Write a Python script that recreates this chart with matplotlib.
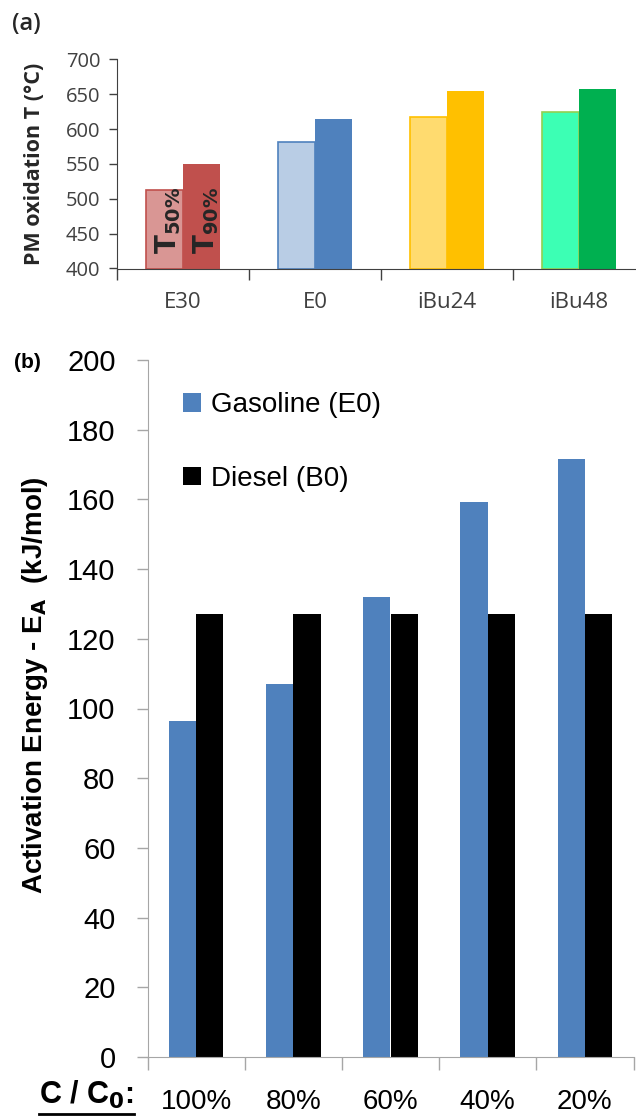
import matplotlib
matplotlib.use("Agg")
import matplotlib.pyplot as plt
import numpy as np
from matplotlib.lines import Line2D

# dados painel (a): temperatura de oxidacao do PM
fuels = ["E30", "E0", "iBu24", "iBu48"]
t50 = [512, 581, 617, 624]
t90 = [550, 614, 654, 657]
light_colors = ["#D99694", "#B9CDE5", "#FFDB6F", "#3CFFB4"]
edge_colors = ["#C0504D", "#4F81BD", "#FFC000", "#92D050"]
dark_colors = ["#C0504D", "#4F81BD", "#FFC000", "#00B050"]

# dados painel (b): energia de ativacao
conv = ["100%", "80%", "60%", "40%", "20%"]
gasoline = [96.4, 107.1, 132.1, 159.3, 171.5]
diesel = [127, 127, 127, 127, 127]

arial = ["Liberation Sans", "DejaVu Sans"]
sans_a = ["Open Sans", "DejaVu Sans"]
plt.rcParams["mathtext.fontset"] = "dejavusans"

W, H = 636, 1116
fig = plt.figure(figsize=(W / 100, H / 100), dpi=100)

# ---------- (a) ----------
ax1 = fig.add_axes([117 / W, 1 - 268.5 / H, 528 / W, (268.5 - 59.3) / H])
w = 0.283
x = np.arange(len(fuels))
for i in range(len(fuels)):
    ax1.bar(x[i] - w / 2, t50[i] - 400, w, bottom=400, color=light_colors[i],
            edgecolor=edge_colors[i], linewidth=1.2)
    ax1.bar(x[i] + w / 2, t90[i] - 400, w, bottom=400, color=dark_colors[i])
ax1.set_xlim(-0.5, 3.5)
ax1.set_ylim(400, 700)
ax1.set_yticks(range(400, 701, 50))
ax1.set_xticks(x)
ax1.set_xticklabels(fuels, fontsize=16, family=sans_a, color="#404040")
ax1.set_xticks(np.arange(-0.5, 3.6, 1), minor=True)
ax1.tick_params(axis="x", which="major", length=0, pad=17)
ax1.tick_params(axis="x", which="minor", length=8, width=1, color="#404040")
ax1.tick_params(axis="y", length=6, width=1, color="#404040", pad=6)
for lab in ax1.get_yticklabels():
    lab.set_fontsize(14.5)
    lab.set_family(sans_a)
    lab.set_color("#404040")
for s in ["top", "right"]:
    ax1.spines[s].set_visible(False)
ax1.spines["left"].set_color("#404040")
ax1.spines["bottom"].set_color("#404040")
ax1.set_ylabel("PM oxidation T (°C)", fontsize=15.5, fontweight="bold",
               family=sans_a, color="#262626")
ax1.yaxis.set_label_coords(-(117 - 45) / 528, 0.5)
ax1.text(x[0] - w / 2 + 0.03, 421, r"$\mathbf{T}_{\mathbf{50\%}}$", rotation=90,
         ha="center", va="bottom", fontsize=20, color="#262626")
ax1.text(x[0] + w / 2 + 0.03, 421, r"$\mathbf{T}_{\mathbf{90\%}}$", rotation=90,
         ha="center", va="bottom", fontsize=20, color="#262626")
fig.text(12 / W, 1 - 24 / H, "(a)", fontsize=17, family=sans_a, va="center",
         color="#262626", fontweight="semibold")

# ---------- (b) ----------
ax2 = fig.add_axes([147.5 / W, 1 - 1057 / H, 486 / W, (1057 - 360) / H])
w2 = 0.281
x2 = np.arange(len(conv))
ax2.bar(x2 - w2 / 2, gasoline, w2, color="#4F81BD", label="Gasoline (E0)")
ax2.bar(x2 + w2 / 2, diesel, w2, color="black", label="Diesel (B0)")
ax2.set_xlim(-0.5, 4.5)
ax2.set_ylim(0, 200)
ax2.set_yticks(range(0, 201, 20))
ax2.set_xticks(x2)
ax2.set_xticklabels(conv, fontsize=20, family=arial)
ax2.set_xticks(np.arange(-0.5, 4.6, 1), minor=True)
ax2.tick_params(axis="x", which="major", length=0, pad=23)
ax2.tick_params(axis="x", which="minor", length=9, width=1, color="#A6A6A6")
ax2.tick_params(axis="y", length=8, width=1, color="#A6A6A6", pad=15)
for lab in ax2.get_yticklabels():
    lab.set_fontsize(21)
    lab.set_family(arial)
for s in ["top", "right"]:
    ax2.spines[s].set_visible(False)
ax2.spines["left"].set_color("#A6A6A6")
ax2.spines["bottom"].set_color("#A6A6A6")
ax2.set_ylabel(r"Activation Energy - E$_\mathbf{A}$  (kJ/mol)", fontsize=20,
               fontweight="bold", family=arial)
ax2.yaxis.set_label_coords(-(147.5 - 50) / 486, (1057 - 685) / 697)
ax2.legend(loc="upper left", bbox_to_anchor=(0.073, 0.954), frameon=False,
           borderpad=0, borderaxespad=0, handlelength=0.65, handleheight=0.65,
           handletextpad=0.35, labelspacing=1.72,
           prop={"family": arial, "size": 20})
fig.text(14 / W, 1 - 362 / H, "(b)", fontsize=15, fontweight="bold",
         family=arial, va="center")

# rotulo sublinhado do eixo x
cc = fig.text(39 / W, 1 - 1104 / H, r"C / C$_\mathbf{0}$:", fontsize=22,
              fontweight="bold", family=arial, va="baseline")
fig.canvas.draw()
bb = cc.get_window_extent().transformed(fig.transFigure.inverted())
fig.add_artist(Line2D([bb.x0, bb.x1], [1 - 1113.5 / H, 1 - 1113.5 / H],
                      color="black", linewidth=2))

fig.savefig("out.png", dpi=100)
